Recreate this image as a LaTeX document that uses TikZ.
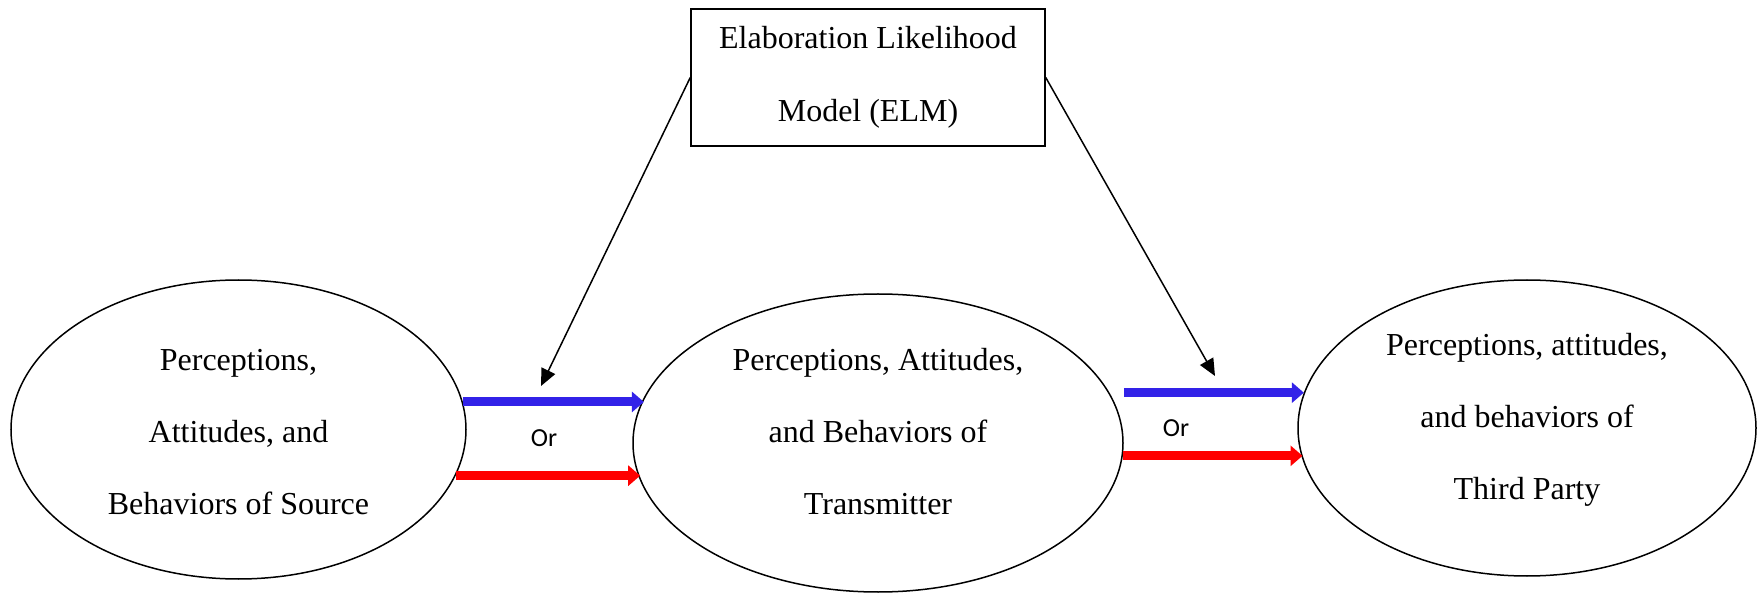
\documentclass[tikz,border=0pt]{standalone}
\usepackage{fontspec}
\setmainfont{Liberation Serif}
\newfontfamily\orfont{Carlito}
\usepackage{tikz}
\usetikzlibrary{shapes.geometric,arrows.meta}
\definecolor{flowblue}{RGB}{50,34,232}
\definecolor{flowred}{RGB}{255,0,0}

\begin{document}
\begin{tikzpicture}[x=0.5pt,y=-0.5pt]
\tikzstyle{every node}+=[inner sep=0pt]
\tikzstyle{blob}=[draw,ellipse,line width=0.75pt]
\tikzstyle{blobtext}=[align=center,font=\fontsize{16}{36}\selectfont]
\tikzstyle{modelbox}=[draw,rectangle,line width=0.75pt,align=center,font=\fontsize{16}{36.5}\selectfont]
\tikzstyle{orlabel}=[font=\orfont\fontsize{13}{15}\selectfont]
\tikzstyle{pointer}=[line width=0.75pt,-{Triangle[length=8.5pt,width=7.5pt]}]
\tikzstyle{blueflow}=[flowblue,line width=4.5pt,-{Triangle[length=6pt,width=10pt]}]
\tikzstyle{redflow}=[flowred,line width=4.5pt,-{Triangle[length=6pt,width=10pt]}]
\useasboundingbox (0,0) rectangle (1758,593);
\node [blob,minimum width=227.5pt,minimum height=149.5pt] (src) at (238.5,429.5) {};
\node [blob,minimum width=245pt,minimum height=149pt] (trn) at (878,443) {};
\node [blob,minimum width=229pt,minimum height=148pt] (tp) at (1527,428) {};
\node [blobtext] (srctext) at ([yshift=-1.5pt]src.center) {Perceptions,\\Attitudes, and\\Behaviors of Source};
\node [blobtext] (trntext) at ([yshift=5.5pt]trn.center) {Perceptions, Attitudes,\\and Behaviors of\\Transmitter};
\node [blobtext] (tptext) at ([yshift=4pt]tp.center) {Perceptions, attitudes,\\and behaviors of\\Third Party};
\node [modelbox,minimum width=177pt,minimum height=68.5pt] (elm) at (868,77.5) {Elaboration Likelihood\\Model (ELM)};
\coordinate (m1) at (541,386);
\coordinate (m2) at (1215,376);
\draw [pointer] (elm.west) -- (m1);
\draw [pointer] (elm.east) -- (m2);
\draw [blueflow] (src.7.5) -- (src.7.5 -| trn.169.6);
\draw [redflow] (src.-12.7) -- (src.-12.7 -| trn.-171.6);
\draw [blueflow] (trn.east |- tp.171.1) -- (tp.171.1);
\draw [redflow] (trn.-3.8) -- (trn.-3.8 -| tp.-172.1);
\node [orlabel] (or1) at (544,438) {Or};
\node [orlabel] (or2) at (1176,428) {Or};
\end{tikzpicture}
\end{document}
